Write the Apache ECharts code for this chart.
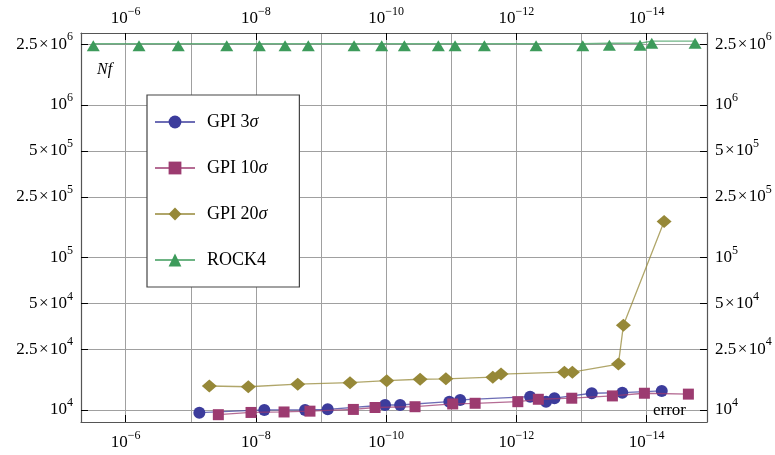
<!DOCTYPE html>
<html><head><meta charset="utf-8">
<script src="https://cdn.jsdelivr.net/npm/echarts@6/dist/echarts.min.js"></script>
<style>html,body{margin:0;padding:0;background:#fff}#c{width:775px;height:455px}</style>
</head><body><div id="c"></div>
<script>
// ---- data ----
const seriesNames = ['GPI 3σ', 'GPI 10σ', 'GPI 20σ', 'ROCK4'];

const gpi3Err = [7.4e-8, 7.43e-9, 1.76e-9, 7.9e-10, 1.04e-10, 6.1e-11, 1.07e-11, 7.3e-12, 6.15e-13, 3.5e-13, 2.6e-13, 6.95e-14, 2.36e-14, 5.85e-15];
const gpi3Nf  = [9600, 10000, 10000, 10100, 10780, 10780, 11330, 11630, 12220, 11330, 11940, 12870, 12980, 13320];

const gpi10Err = [3.78e-8, 1.19e-8, 3.7e-9, 1.48e-9, 3.19e-10, 1.48e-10, 3.6e-11, 9.5e-12, 4.3e-12, 9.5e-13, 4.6e-13, 1.41e-13, 3.35e-14, 1.08e-14, 2.28e-15];
const gpi10Nf  = [9310, 9630, 9700, 9820, 10080, 10380, 10500, 10950, 11060, 11330, 11750, 11940, 12360, 12870, 12700];

const gpi20Err = [5.2e-8, 1.31e-8, 2.28e-9, 3.59e-10, 9.8e-11, 3.01e-11, 1.21e-11, 2.3e-12, 1.72e-12, 1.83e-13, 1.38e-13, 2.71e-14, 2.27e-14, 5.38e-15];
const gpi20Nf  = [14360, 14200, 14750, 15100, 15560, 15900, 16000, 16400, 17200, 17700, 17700, 20000, 35900, 172000];

const rock4Err = [3.15e-6, 6.25e-7, 1.56e-7, 2.81e-8, 8.87e-9, 3.57e-9, 1.57e-9, 3.11e-10, 1.17e-10, 5.25e-11, 1.58e-11, 8.74e-12, 3.1e-12, 4.98e-13, 9.55e-14, 3.73e-14, 1.26e-14, 8.32e-15, 1.8e-15];
const rock4Nf  = [2.52e6, 2.52e6, 2.52e6, 2.52e6, 2.52e6, 2.52e6, 2.52e6, 2.52e6, 2.52e6, 2.52e6, 2.52e6, 2.52e6, 2.52e6, 2.52e6, 2.52e6, 2.54e6, 2.54e6, 2.62e6, 2.62e6];

// tick labels
const xLabelExps = [-6, -8, -10, -12, -14];
const xGridExps  = [-6, -7, -8, -9, -10, -11, -12, -13, -14];
const yTickMant  = [1, 2.5, 5, 1, 2.5, 5, 1, 2.5];
const yTickExp   = [4, 4, 4, 5, 5, 5, 6, 6];

const xMin = Math.pow(10, -14.928), xMax = Math.pow(10, -5.313);
const yMin = Math.pow(10, 3.921),   yMax = Math.pow(10, 6.472);

// ---- derived ----
const xLabelVals = xLabelExps.map(e => Math.pow(10, e));
const xGridVals  = xGridExps.map(e => Math.pow(10, e));
const yTickVals  = yTickMant.map((m, i) => m * Math.pow(10, yTickExp[i]));

const FONT = '"Liberation Serif", "Times New Roman", serif';
const rich = {
  b: { fontFamily: FONT, fontSize: 17, color: '#000', lineHeight: 26 },
  s: { fontFamily: FONT, fontSize: 12, color: '#000', lineHeight: 12, verticalAlign: 'top' }
};
function fmtX(v) {
  const e = Math.round(Math.log10(v));
  return '{b|10}{s|' + (e < 0 ? '\u2212' + (-e) : e) + '}';
}
function fmtY(v) {
  for (let i = 0; i < yTickVals.length; i++) {
    if (Math.abs(v / yTickVals[i] - 1) < 1e-6) {
      const m = yTickMant[i];
      return '{b|' + (m === 1 ? '' : m + '\u200a×\u200a') + '10}{s|' + yTickExp[i] + '}';
    }
  }
  return '';
}

const frame = { show: true, lineStyle: { color: '#555', width: 1.2 } };
const gridLine = { show: true, lineStyle: { color: '#a0a0a0', width: 1 } };

function xAxisBase(pos, margin) {
  return {
    type: 'log', position: pos, inverse: true, min: xMin, max: xMax,
    axisLine: frame,
    axisTick: { show: true, inside: true, length: 7, customValues: xLabelVals, lineStyle: { color: '#000', width: 1 } },
    axisLabel: { show: true, customValues: xLabelVals, formatter: fmtX, margin: margin, rich: rich },
    splitLine: { show: false }, minorTick: { show: false }, minorSplitLine: { show: false }
  };
}
function yAxisBase(pos, split) {
  return {
    type: 'log', position: pos, min: yMin, max: yMax,
    axisLine: frame,
    axisTick: { show: true, inside: true, length: 7, customValues: yTickVals, lineStyle: { color: '#000', width: 1 } },
    axisLabel: { show: true, customValues: yTickVals, formatter: fmtY, margin: 8, rich: rich },
    splitLine: split ? gridLine : { show: false }
  };
}

const colors = ['#3c3c9c', '#9c3b70', '#968838', '#3d9b5b'];
const symbols = ['circle', 'rect', 'diamond', 'triangle'];
const sizes = [12, 11, [15, 13], [13, 11]];
const errs = [gpi3Err, gpi10Err, gpi20Err, rock4Err];
const nfs = [gpi3Nf, gpi10Nf, gpi20Nf, rock4Nf];

const series = seriesNames.map((name, k) => ({
  name: name, type: 'line',
  xAxisIndex: 0, yAxisIndex: 0,
  data: errs[k].map((e, i) => [e, nfs[k][i]]),
  symbol: symbols[k], symbolSize: sizes[k],
  symbolOffset: k === 3 ? [0, 2] : [0, 0],
  showAllSymbol: true,
  itemStyle: { color: colors[k], opacity: 1 },
  lineStyle: { color: colors[k], width: 1.3, opacity: 0.75 },
  emphasis: { disabled: true },
  animation: false, z: 3 + k
}));

function legendFmt(n) {
  const i = n.indexOf('σ');
  if (i < 0) return '{n|' + n + '}';
  return '{n|' + n.slice(0, i) + '}{i|σ}' + (i + 1 < n.length ? '{n|' + n.slice(i + 1) + '}' : '');
}

const chart = echarts.init(document.getElementById('c'), null, { renderer: 'canvas' });
chart.setOption({
  animation: false,
  backgroundColor: '#fff',
  grid: { left: 81, right: 68, top: 33, bottom: 33, containLabel: false },
  xAxis: [
    xAxisBase('bottom', 8),
    xAxisBase('top', 1),
    {
      type: 'log', position: 'bottom', inverse: true, min: xMin, max: xMax,
      axisLine: { show: false },
      axisTick: { show: false, customValues: xGridVals },
      axisLabel: { show: false },
      splitLine: gridLine
    }
  ],
  yAxis: [ yAxisBase('left', true), yAxisBase('right', false) ],
  legend: {
    orient: 'vertical', left: 147, top: 95,
    padding: [16, 32, 16, 7],
    itemGap: 24, itemWidth: 40, itemHeight: 16,
    backgroundColor: '#fff', borderColor: '#444', borderWidth: 1.2, borderRadius: 0,
    data: seriesNames,
    selectedMode: false,
    formatter: legendFmt,
    textStyle: {
      fontFamily: FONT, fontSize: 18, color: '#000', lineHeight: 22,
      rich: {
        n: { fontFamily: FONT, fontSize: 18, color: '#000', padding: [0, 0, 0, 7] },
        i: { fontFamily: FONT, fontSize: 18, fontStyle: 'italic', color: '#000' }
      }
    }
  },
  graphic: [
    { type: 'text', x: 97, y: 70, z: 10, style: { text: 'Nf', font: 'italic 16px "Liberation Serif"', fill: '#000', align: 'left', verticalAlign: 'middle' } },
    { type: 'text', x: 653, y: 411, z: 10, style: { text: 'error', font: '17px "Liberation Serif"', fill: '#000', align: 'left', verticalAlign: 'middle' } }
  ],
  series: series
});
</script>
</body></html>
